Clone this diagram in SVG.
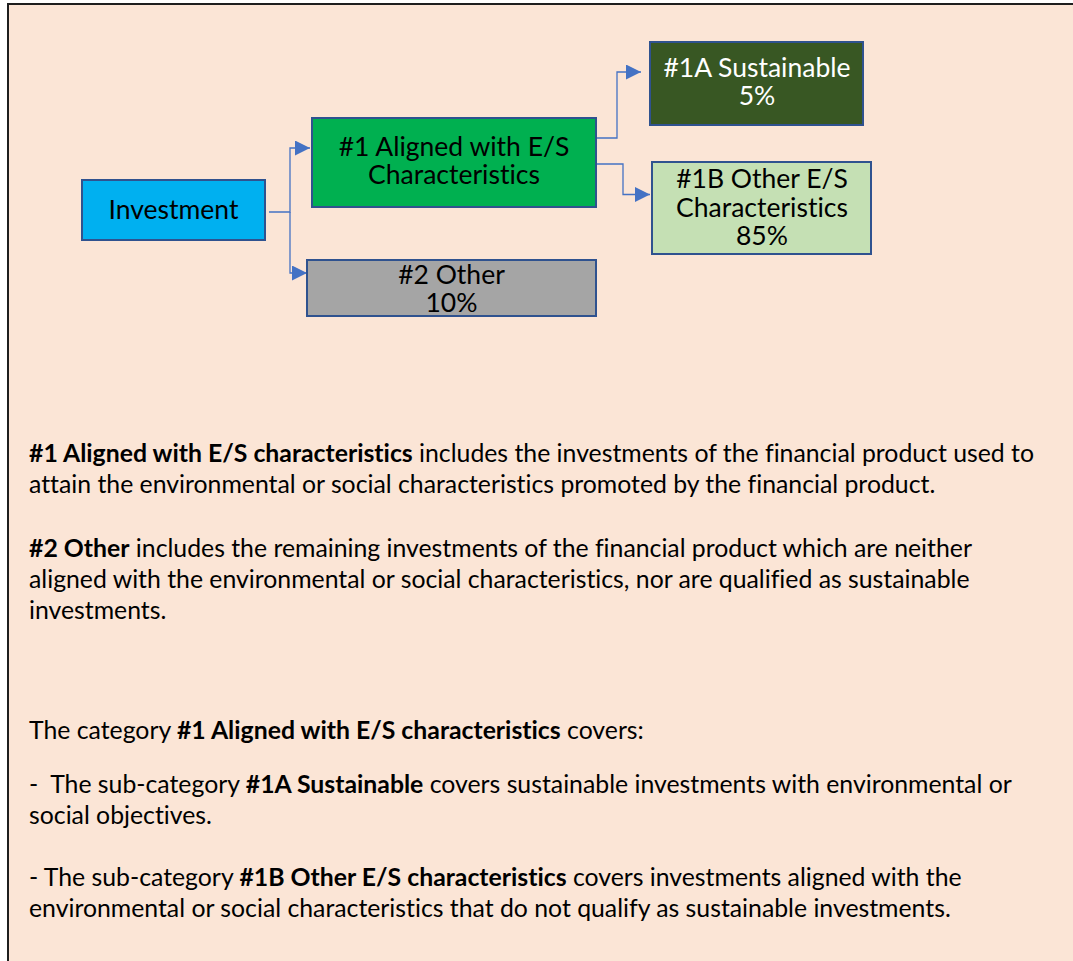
<svg xmlns="http://www.w3.org/2000/svg" width="1073" height="961" viewBox="0 0 1073 961">
<defs>
<marker id="arr" markerUnits="userSpaceOnUse" markerWidth="15" markerHeight="15" refX="15" refY="7.5" orient="auto">
<path d="M0,0 L15,7.5 L0,15 Z" fill="#4472C4"/>
</marker>
</defs>
<style>
.box{stroke:#2F528F;stroke-width:2}
.bt{font-family:Lato,"Liberation Sans",sans-serif;font-size:26.5px;text-anchor:middle;fill:#000;font-variant-ligatures:none}
.wt{fill:#FFFFFF}
.con{fill:none;stroke:#4472C4;stroke-width:1.3;marker-end:url(#arr)}
.body{font-family:Lato,"Liberation Sans",sans-serif;font-size:24.8px;fill:#000;white-space:pre;font-variant-ligatures:none}
.b{font-weight:bold}
</style>
<rect x="0" y="0" width="1073" height="961" fill="#FFFFFF"/>
<rect id="frame" x="8" y="4" width="1090" height="990" fill="#FBE5D6" stroke="#1E1E1E" stroke-width="2"/>

<g id="connectors">
<path class="con" d="M269,212 H290 V148 H310"/>
<path class="con" d="M290,212 V273 H307"/>
<path class="con" d="M596,138 H617 V72 H641"/>
<path class="con" d="M597,164 H623 V194.5 H650"/>
</g>

<g id="investment">
<rect class="box" x="82" y="180" width="183" height="60" fill="#00B0F0"/>
<text class="bt" x="173.5" y="219">Investment</text>
</g>

<g id="aligned">
<rect class="box" x="312" y="118" width="284" height="89" fill="#00B050"/>
<text class="bt" x="454" y="156">#1 Aligned with E/S</text>
<text class="bt" x="454" y="184">Characteristics</text>
</g>

<g id="sustainable">
<rect class="box" x="650" y="42" width="213" height="83" fill="#385723"/>
<text class="bt wt" x="757" y="77">#1A Sustainable</text>
<text class="bt wt" x="757" y="105">5%</text>
</g>

<g id="other-es">
<rect class="box" x="652" y="162" width="219" height="92" fill="#C5E0B4"/>
<text class="bt" x="762" y="188">#1B Other E/S</text>
<text class="bt" x="762" y="217">Characteristics</text>
<text class="bt" x="762" y="245">85%</text>
</g>

<g id="other">
<rect class="box" x="307" y="260" width="289" height="56" fill="#A5A5A5"/>
<text class="bt" x="451.5" y="284">#2 Other</text>
<text class="bt" x="451.5" y="312">10%</text>
</g>

<g id="description">
<text class="body" x="29" y="462"><tspan class="b">#1 Aligned with E/S characteristics</tspan> includes the investments of the financial product used to</text>
<text class="body" x="29" y="493">attain the environmental or social characteristics promoted by the financial product.</text>
<text class="body" x="29" y="557"><tspan class="b">#2 Other</tspan> includes the remaining investments of the financial product which are neither</text>
<text class="body" x="29" y="588">aligned with the environmental or social characteristics, nor are qualified as sustainable</text>
<text class="body" x="29" y="619">investments.</text>
<text class="body" x="29" y="739">The category <tspan class="b">#1 Aligned with E/S characteristics</tspan> covers:</text>
<text class="body" x="29" y="793">-  The sub-category <tspan class="b">#1A Sustainable</tspan> covers sustainable investments with environmental or</text>
<text class="body" x="29" y="824">social objectives.</text>
<text class="body" x="29" y="886">- The sub-category <tspan class="b">#1B Other E/S characteristics</tspan> covers investments aligned with the</text>
<text class="body" x="29" y="917">environmental or social characteristics that do not qualify as sustainable investments.</text>
</g>
</svg>
